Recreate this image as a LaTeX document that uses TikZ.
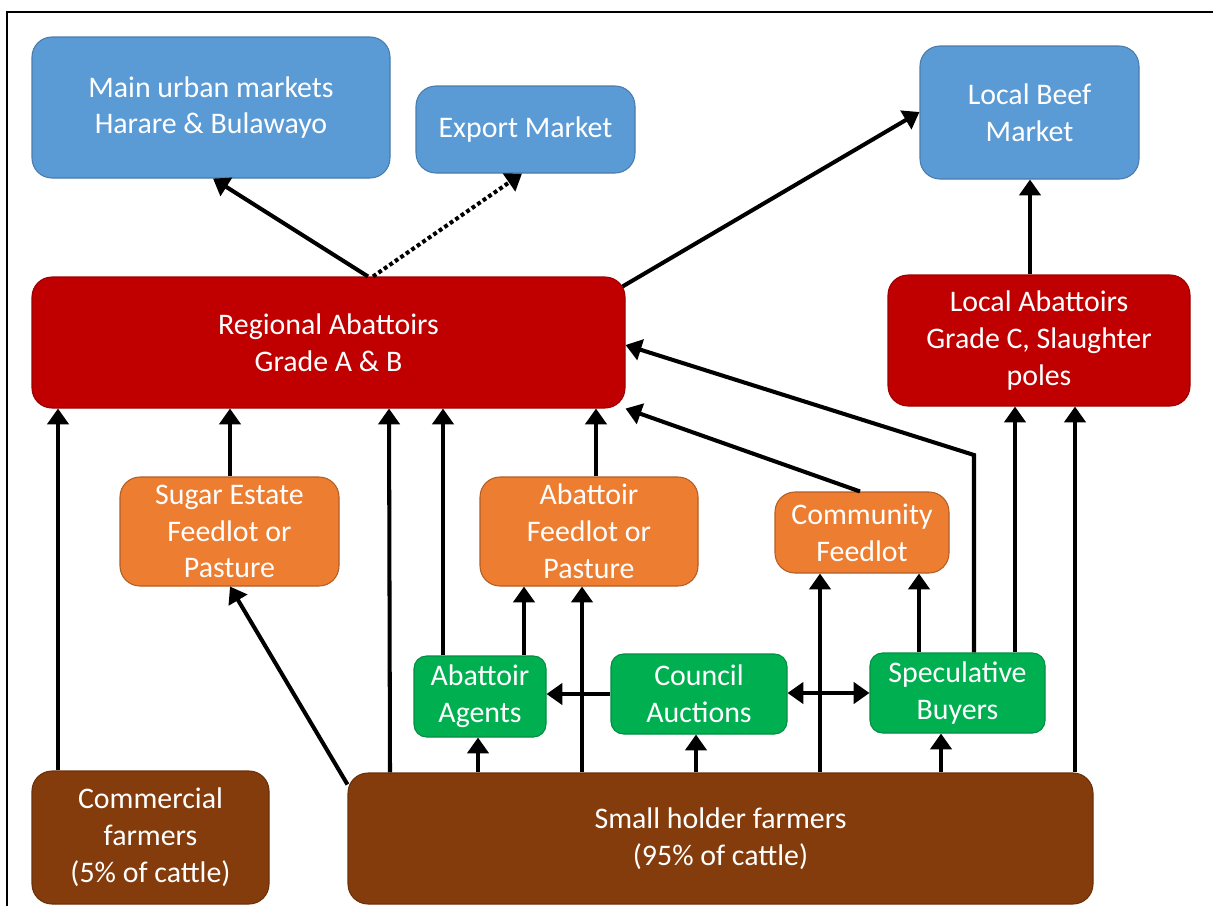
\documentclass[tikz,border=0pt]{standalone}
\usepackage{fontspec}
\setmainfont{Carlito}
\usetikzlibrary{arrows.meta,calc}
\definecolor{cblue}{HTML}{5B9BD5}
\definecolor{cred}{HTML}{C00000}
\definecolor{corange}{HTML}{ED7D31}
\definecolor{cgreen}{HTML}{00B050}
\definecolor{cbrown}{HTML}{843C0C}
\newcommand\bnode[7]{%
  \node[#1, minimum width={(#5-#3)*0.02cm}, minimum height={(#6-#4)*0.02cm}] (#2) at ({(#3+#5)/2},{(#4+#6)/2}) {#7};}
\tikzset{
  boxbase/.style={rectangle, rounded corners=0.4cm, align=center, inner sep=0pt, text=white,
    font=\fontsize{17}{21}\selectfont, line width=0.6pt},
  bluebox/.style={boxbase, fill=cblue, draw=cblue!80!black},
  redbox/.style={boxbase, fill=cred, draw=cred!80!black},
  orangebox/.style={boxbase, fill=corange, draw=corange!75!black},
  greenbox/.style={boxbase, fill=cgreen, draw=cgreen!80!black, rounded corners=0.25cm},
  brownbox/.style={boxbase, fill=cbrown, draw=cbrown!80!black},
  arr/.style={line width=2.3pt, -{Triangle[length=9pt,width=12pt]}},
  dotarr/.style={arr, dash pattern=on 2.2pt off 1.6pt},
  dblarr/.style={line width=2.3pt, {Triangle[length=9pt,width=12pt]}-{Triangle[length=9pt,width=12pt]}}
}
\begin{document}
\begin{tikzpicture}[x=0.02cm,y=-0.02cm]
\useasboundingbox (0,0) rectangle (1213,906);
\draw[line width=1pt] (7,906) -- (7,12) -- (1213,12);

\bnode{bluebox}{mu}{32}{37}{390}{178}{Main urban markets\\Harare \& Bulawayo}
\bnode{bluebox}{ex}{416}{86}{635}{173}{Export Market}
\bnode{bluebox}{lb}{920}{46}{1139}{179}{Local Beef\\Market}
\bnode{redbox}{ra}{32}{277}{625}{408}{Regional Abattoirs\\Grade A \& B}
\bnode{redbox}{la}{888}{275}{1190}{406}{Local Abattoirs\\Grade C, Slaughter\\poles}
\bnode{orangebox}{sg}{120}{477}{339}{586}{Sugar Estate\\Feedlot or\\Pasture}
\bnode{orangebox}{af}{480}{477}{698}{586}{Abattoir\\Feedlot or\\Pasture}
\bnode{orangebox}{cf}{775}{492}{949}{573}{Community\\Feedlot}
\bnode{greenbox}{ag}{414}{656}{546}{737}{Abattoir\\Agents}
\bnode{greenbox}{ca}{611}{654}{787}{734}{Council\\Auctions}
\bnode{greenbox}{sb}{870}{653}{1045}{733}{Speculative\\Buyers}
\bnode{brownbox}{cm}{32}{771}{269}{904}{Commercial\\farmers\\(5\% of cattle)}
\bnode{brownbox}{sh}{348}{773}{1093}{904}{Small holder farmers\\(95\% of cattle)}

% top level
\draw[arr] (ra.north -| 368,0) -- (mu.south -| 213,0);
\draw[dotarr] (ra.north -| 373,0) -- (ex.south -| 522,0);
\draw[arr] ($(ra.north east)+(-3,10)$) -- (lb.west |- 0,112);
\draw[arr] (la.north -| 1030,0) -- (lb.south -| 1030,0);

% into regional abattoirs
\draw[arr] (cm.north -| 58,0) -- (ra.south -| 58,0);
\draw[arr] (sg.north -| 230,0) -- (ra.south -| 230,0);
\draw[arr] (sh.north -| 390,0) -- (ra.south -| 389,0);
\draw[arr] (ag.north -| 443,0) -- (ra.south -| 443,0);
\draw[arr] (af.north -| 596,0) -- (ra.south -| 596,0);
\draw[arr] (cf.north -| 860,0) -- (ra.south east);
\coordinate (bend) at (974,455);
\draw[arr] (sb.north -| 974,0) -- (bend) -- (ra.east |- 0,345);

% into local abattoirs
\draw[arr] (sb.north -| 1015,0) -- (la.south -| 1015,0);
\draw[arr] (sh.north -| 1075,0) -- (la.south -| 1075,0);

% lower level
\draw[arr] ($(sh.north west)+(0,12)$) -- (sg.south -| 230,0);
\draw[arr] (sh.north -| 478,0) -- (ag.south -| 478,0);
\draw[arr] (ag.north -| 524,0) -- (af.south -| 524,0);
\draw[arr] (sh.north -| 582,0) -- (af.south -| 582,0);
\draw[arr] (ca.west |- 0,694) -- (ag.east |- 0,694);
\draw[dblarr] (ca.east |- 0,693) -- (sb.west |- 0,693);
\draw[arr] (sh.north -| 696,0) -- (ca.south -| 696,0);
\draw[arr] (sh.north -| 820,0) -- (cf.south -| 820,0);
\draw[arr] (sb.north -| 919,0) -- (cf.south -| 919,0);
\draw[arr] (sh.north -| 941,0) -- (sb.south -| 941,0);
\end{tikzpicture}
\end{document}
